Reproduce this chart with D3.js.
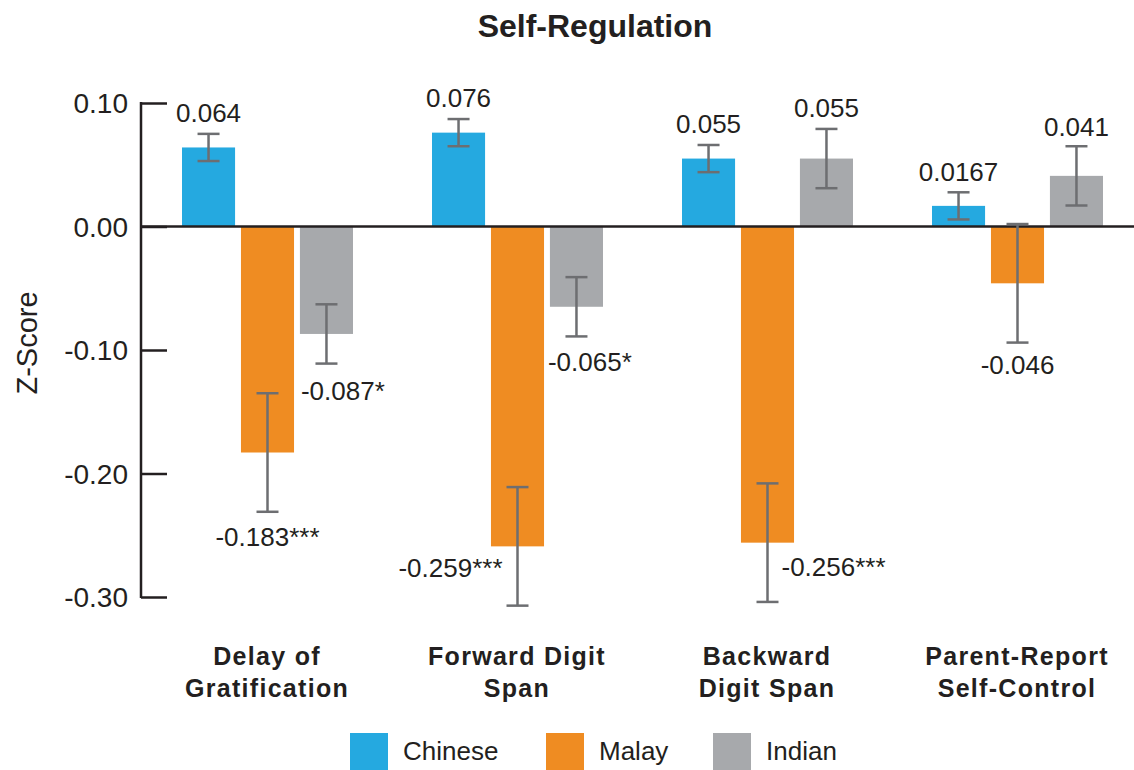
<!DOCTYPE html>
<html>
<head>
<meta charset="utf-8">
<script src="https://cdn.jsdelivr.net/npm/d3@7"></script>
<style>
  body { margin: 0; background: #fff; }
  text { font-family: "Liberation Sans", Arial, sans-serif; fill: #231f20; }
</style>
</head>
<body>
<div id="chart"></div>
<script>
// data
const categories = [["Delay of", "Gratification"], ["Forward Digit", "Span"], ["Backward", "Digit Span"], ["Parent-Report", "Self-Control"]];
const groups = ["Chinese", "Malay", "Indian"];
const chinese = [0.064, 0.076, 0.055, 0.0167];
const malay = [-0.183, -0.259, -0.256, -0.046];
const indian = [-0.087, -0.065, 0.055, 0.041];
const chineseErr = [0.011, 0.011, 0.011, 0.011];
const malayErr = [0.048, 0.048, 0.048, 0.048];
const indianErr = [0.024, 0.024, 0.024, 0.024];
const chineseLabels = ["0.064", "0.076", "0.055", "0.0167"];
const malayLabels = ["-0.183***", "-0.259***", "-0.256***", "-0.046"];
const indianLabels = ["-0.087*", "-0.065*", "0.055", "0.041"];
const yTicks = [0.10, 0.00, -0.10, -0.20, -0.30];

const colors = ["#25a9e0", "#ef8c22", "#a7a9ac"];

// where each value label sits: anchor, which end it hangs off, dx, dy
const labelPos = [
  [["middle", "top", 0, -12], ["middle", "bottom", 0, 34], ["start", "barL", 1, 36]],
  [["middle", "top", 0, -12], ["end", "bar", -15, 31], ["start", "barL", -2, 35]],
  [["middle", "top", 0, -12], ["start", "bar", 14, 33], ["middle", "top", 0, -12]],
  [["middle", "top", 0, -11], ["middle", "bottom", 0, 31], ["middle", "top", 0, -10]]
];

const width = 1134, height = 770;

const svg = d3.select("#chart").append("svg")
    .attr("width", width)
    .attr("height", height);

const x0 = d3.scaleBand()
    .domain(d3.range(categories.length))
    .range([142, 1142]);

const x1 = d3.scaleBand()
    .domain(groups)
    .range([40, 211])
    .paddingInner(0.1);

const y = d3.scaleLinear()
    .domain([-0.30, 0.10])
    .range([597, 103]);

const rows = [];
const vals = [chinese, malay, indian];
const errs = [chineseErr, malayErr, indianErr];
const labs = [chineseLabels, malayLabels, indianLabels];
categories.forEach((c, i) => {
  groups.forEach((g, j) => {
    rows.push({cat: i, group: g, gi: j, value: vals[j][i], err: errs[j][i], label: labs[j][i], pos: labelPos[i][j]});
  });
});

// title
svg.append("text")
    .attr("x", 595)
    .attr("y", 37)
    .attr("text-anchor", "middle")
    .style("font-size", "32px")
    .style("font-weight", "bold")
    .text("Self-Regulation");

// y axis
const yAxis = d3.axisRight(y)
    .tickValues(yTicks)
    .tickSize(26)
    .tickFormat("");

const axisG = svg.append("g")
    .attr("transform", "translate(141,0)")
    .call(yAxis);
axisG.select(".domain").remove();
axisG.selectAll(".tick line").attr("stroke", "#231f20").attr("stroke-width", 2.5);
axisG.append("line")
    .attr("y1", y(0.10) - 1)
    .attr("y2", y(-0.30) + 1)
    .attr("stroke", "#231f20")
    .attr("stroke-width", 2.5);

const fmt = d => d3.format(".2f")(d).replace("−", "-");

svg.append("g").selectAll("text")
  .data(yTicks)
  .join("text")
    .attr("x", 128)
    .attr("y", d => y(d) + 10)
    .attr("text-anchor", "end")
    .style("font-size", "28px")
    .text(fmt);

svg.append("text")
    .attr("transform", `translate(37,${(y(0.10) + y(-0.30)) / 2 - 7}) rotate(-90)`)
    .attr("text-anchor", "middle")
    .style("font-size", "29px")
    .text("Z-Score");

// bars
const barX = d => x0(d.cat) + x1(d.group);

svg.append("g").selectAll("rect")
  .data(rows)
  .join("rect")
    .attr("x", barX)
    .attr("width", x1.bandwidth())
    .attr("y", d => y(Math.max(0, d.value)))
    .attr("height", d => Math.abs(y(d.value) - y(0)))
    .attr("fill", d => colors[d.gi]);

// zero line
svg.append("line")
    .attr("x1", 141)
    .attr("x2", width)
    .attr("y1", y(0))
    .attr("y2", y(0))
    .attr("stroke", "#231f20")
    .attr("stroke-width", 2.5);

// error bars
const eb = svg.append("g")
    .attr("stroke", "#6d6e71")
    .attr("stroke-width", 2.5)
  .selectAll("g")
  .data(rows)
  .join("g")
    .attr("transform", d => `translate(${barX(d) + x1.bandwidth() / 2},0)`);

eb.append("line")
    .attr("y1", d => y(d.value + d.err))
    .attr("y2", d => y(d.value - d.err));
eb.append("line")
    .attr("x1", -11).attr("x2", 11)
    .attr("y1", d => y(d.value + d.err))
    .attr("y2", d => y(d.value + d.err));
eb.append("line")
    .attr("x1", -11).attr("x2", 11)
    .attr("y1", d => y(d.value - d.err))
    .attr("y2", d => y(d.value - d.err));

// value labels
svg.append("g").selectAll("text")
  .data(rows)
  .join("text")
    .attr("text-anchor", d => d.pos[0])
    .attr("x", d => {
      var cx = barX(d) + x1.bandwidth() / 2;
      if (d.pos[1] == "barL") cx = barX(d);
      return cx + d.pos[2];
    })
    .attr("y", d => {
      var ref;
      if (d.pos[1] == "top") ref = y(d.value + d.err);
      else if (d.pos[1] == "bottom") ref = y(d.value - d.err);
      else if (d.pos[1] == "barL") ref = y(d.value - d.err);
      else ref = y(d.value);
      return ref + d.pos[3];
    })
    .style("font-size", "26px")
    .text(d => d.label);

// category labels
const cat = svg.append("g").selectAll("text")
  .data(categories)
  .join("text")
    .attr("x", (d, i) => x0(i) + x0.bandwidth() / 2)
    .attr("y", 665)
    .attr("text-anchor", "middle")
    .style("font-size", "25px")
    .style("font-weight", "bold")
    .style("letter-spacing", "1.3px");
cat.append("tspan").text(d => d[0]);
cat.append("tspan")
    .attr("x", (d, i) => x0(i) + x0.bandwidth() / 2)
    .attr("dy", 32)
    .text(d => d[1]);

// legend
const legendX = [350, 546, 713];
const legend = svg.append("g").selectAll("g")
  .data(groups)
  .join("g")
    .attr("transform", (d, i) => `translate(${legendX[i]},733)`);
legend.append("rect")
    .attr("width", 38)
    .attr("height", 37)
    .attr("fill", (d, i) => colors[i]);
legend.append("text")
    .attr("x", 53)
    .attr("y", 27)
    .style("font-size", "26px")
    .text(d => d);
</script>
</body>
</html>
